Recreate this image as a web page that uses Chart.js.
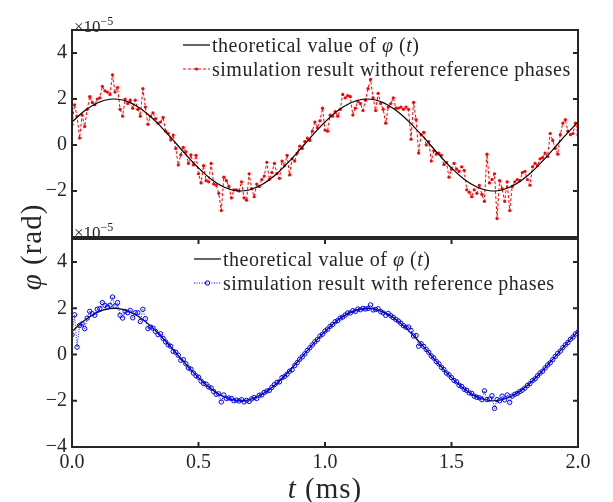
<!DOCTYPE html>
<html>
<head>
<meta charset="utf-8">
<script src="https://cdn.jsdelivr.net/npm/chart.js@4.4.1/dist/chart.umd.min.js"></script>
<style>
  body { margin: 0; background: #fff; }
  #wrap { position: relative; width: 613px; height: 502px; font-family: 'Liberation Serif', serif; color: #262626; }
  #wrap canvas { position: absolute; left: 0; top: 0; }
  .txt { position: absolute; white-space: nowrap; }
  .leg { position: absolute; height: 24px; line-height: 24px; font-size: 20px; letter-spacing: 0.5px; white-space: nowrap; display: flex; align-items: center; }
  .leg svg { margin-right: 2px; }
  .exp { font-size: 17px; line-height: 20px; }
  .exp sup { font-size: 12px; vertical-align: 7px; }
  .title { font-size: 29px; letter-spacing: 1px; height: 34px; line-height: 34px; width: 200px; text-align: center; }
</style>
</head>
<body>
<div id="wrap">
  <canvas id="topChart" width="613" height="502"></canvas>
  <canvas id="botChart" width="613" height="502"></canvas>

  <div class="txt exp" style="left:74px; top:11px;">×10<sup>−5</sup></div>
  <div class="txt exp" style="left:74px; top:217px;">×10<sup>−5</sup></div>

  <div class="leg" style="left:183px; top:33px;">
    <svg width="27" height="10"><line x1="0" y1="5" x2="27" y2="5" stroke="#000" stroke-width="1.2"/></svg>
    <span>theoretical value of <i>φ</i> (<i>t</i>)</span>
  </div>
  <div class="leg" style="left:183px; top:57px;">
    <svg width="27" height="10"><line x1="0" y1="5" x2="27" y2="5" stroke="#ff0000" stroke-width="1" stroke-dasharray="3,2"/><circle cx="13.5" cy="5" r="1.6" fill="#ff0000"/></svg>
    <span>simulation result without reference phases</span>
  </div>
  <div class="leg" style="left:194px; top:247px;">
    <svg width="27" height="10"><line x1="0" y1="5" x2="27" y2="5" stroke="#000" stroke-width="1.2"/></svg>
    <span>theoretical value of <i>φ</i> (<i>t</i>)</span>
  </div>
  <div class="leg" style="left:194px; top:271px;">
    <svg width="27" height="10"><line x1="0" y1="5" x2="27" y2="5" stroke="#0000ff" stroke-width="1" stroke-dasharray="1,1.5"/><circle cx="13.5" cy="5" r="2.2" fill="none" stroke="#0000ff" stroke-width="1"/></svg>
    <span>simulation result with reference phases</span>
  </div>

  <div class="txt title" style="left:-69px; top:230px; transform:rotate(-90deg);"><i>φ</i> (rad)</div>
  <div class="txt title" style="left:225px; top:471px;"><i>t</i> (ms)</div>
</div>

<script>
// sampling step of the simulated signals (ms) and of the theoretical curve
const simStep = 0.01;
const theoryStep = 0.05;

// theoretical phase, x1e-5 rad
const theory = [
  1.000, 1.486, 1.827, 1.989, 1.956, 1.732, 1.338, 0.813, 0.209, -0.416,
  -1.000, -1.486, -1.827, -1.989, -1.956, -1.732, -1.338, -0.813, -0.209, 0.416,
  1.000, 1.486, 1.827, 1.989, 1.956, 1.732, 1.338, 0.813, 0.209, -0.416,
  -1.000, -1.486, -1.827, -1.989, -1.956, -1.732, -1.338, -0.813, -0.209, 0.416,
  1.000
];

// simulation without reference phases (top panel)
const simNoRef = [
  0.90, 1.75, 1.25, 0.30, 1.30, 0.80, 1.55, 2.10, 1.85, 1.75,
  2.00, 2.05, 2.55, 2.35, 2.30, 2.20, 3.05, 2.30, 2.50, 1.55,
  1.25, 2.00, 1.80, 1.95, 1.60, 1.95, 1.55, 1.25, 2.45, 1.65,
  0.90, 1.25, 1.40, 1.15, 0.95, 1.00, 1.20, 0.60, 0.50, 0.22,
  0.43, -0.15, -0.87, -0.43, -0.10, -0.30, -0.80, -0.43, -0.87, -0.45,
  -1.25, -1.65, -0.90, -1.55, -1.60, -0.80, -1.70, -1.75, -2.10, -2.85,
  -1.40, -1.55, -1.80, -2.30, -1.95, -1.95, -2.00, -1.60, -2.30, -2.40,
  -1.25, -1.90, -2.25, -1.70, -1.80, -1.50, -1.35, -0.75, -1.50, -1.20,
  -0.80, -1.25, -1.45, -0.70, -0.90, -0.45, -1.30, -0.60, -0.70, -0.35,
  -0.05, -0.15, 0.15, 0.30, 0.20, 0.60, 1.00, 0.75, 1.05, 1.60,
  0.65, 0.60, 1.30, 1.25, 1.45, 1.25, 1.55, 2.20, 2.05, 2.15,
  2.10, 1.30, 1.60, 1.90, 1.80, 1.50, 1.95, 2.45, 2.85, 2.05,
  1.50, 2.25, 1.80, 1.55, 0.95, 1.65, 1.80, 2.05, 1.60, 1.60,
  1.65, 1.55, 1.65, 1.55, 0.25, 1.85, 1.10, -0.35, 0.45, 0.55,
  0.00, 0.15, -0.70, -0.25, -0.40, -0.35, -0.45, -0.85, -0.75, -1.40,
  -1.05, -0.80, -1.05, -1.15, -0.95, -1.10, -1.95, -2.05, -2.25, -1.95,
  -2.10, -1.75, -2.15, -2.45, -0.40, -1.65, -1.50, -1.25, -3.20, -1.55,
  -1.90, -2.45, -1.60, -2.85, -1.80, -1.60, -1.50, -1.55, -1.20, -1.15,
  -1.50, -1.75, -0.95, -0.80, -0.90, -0.60, -0.55, -0.35, -0.50, 0.50,
  0.20, -0.15, -0.40, 0.45, 0.95, 1.10, 0.60, 0.45, 0.50, 0.95,
  0.45
];

// simulation with reference phases (bottom panel)
const simRef = [
  0.86, 1.72, 0.32, 1.26, 1.33, 1.12, 1.58, 1.87, 1.77, 1.70,
  1.96, 1.99, 2.25, 2.13, 2.06, 2.13, 2.49, 2.10, 2.25, 1.70,
  1.58, 1.87, 1.81, 1.91, 1.59, 1.81, 1.81, 1.43, 1.96, 1.55,
  1.12, 1.19, 1.14, 1.00, 0.86, 0.90, 0.70, 0.55, 0.42, 0.36,
  0.14, 0.10, -0.03, -0.25, -0.22, -0.40, -0.58, -0.63, -0.80, -0.92,
  -0.98, -1.15, -1.25, -1.28, -1.40, -1.45, -1.60, -1.72, -1.70, -2.05,
  -1.75, -1.90, -1.88, -1.90, -2.00, -1.97, -2.01, -1.95, -2.05, -1.98,
  -2.03, -1.92, -1.86, -1.90, -1.76, -1.75, -1.64, -1.58, -1.55, -1.42,
  -1.30, -1.20, -1.18, -1.00, -0.95, -0.85, -0.72, -0.66, -0.48, -0.35,
  -0.20, -0.10, 0.03, 0.18, 0.29, 0.42, 0.55, 0.65, 0.80, 0.88,
  1.02, 1.10, 1.22, 1.30, 1.42, 1.47, 1.58, 1.62, 1.71, 1.80,
  1.80, 1.90, 1.87, 1.97, 1.94, 2.00, 1.97, 2.00, 2.15, 1.93,
  1.95, 1.98, 1.86, 1.80, 1.70, 1.78, 1.68, 1.60, 1.52, 1.45,
  1.35, 1.25, 1.18, 1.19, 1.04, 0.80, 0.82, 0.36, 0.47, 0.35,
  0.22, 0.10, -0.06, -0.15, -0.30, -0.40, -0.55, -0.65, -0.80, -0.88,
  -1.00, -1.12, -1.18, -1.33, -1.38, -1.50, -1.55, -1.66, -1.68, -1.80,
  -1.85, -1.87, -1.95, -1.57, -1.95, -1.93, -1.78, -2.33, -1.95, -2.00,
  -1.80, -1.96, -1.75, -2.07, -1.80, -1.72, -1.68, -1.60, -1.54, -1.45,
  -1.34, -1.26, -1.13, -1.05, -0.92, -0.80, -0.72, -0.58, -0.45, -0.36,
  -0.22, -0.08, 0.05, 0.15, 0.30, 0.42, 0.52, 0.66, 0.76, 0.89,
  0.98
];

// tick labels
const xTicks = [0, 0.5, 1.0, 1.5, 2.0];
const topYTicks = [-2, 0, 2, 4];
const botYTicks = [-4, -2, 0, 2, 4];

const axisColor = '#262626';
const tickFont = { family: "'Liberation Serif', serif", size: 20 };

function toPoints(values, step) {
    return values.map((v, i) => ({ x: i * step, y: v }));
}

function fmtY(v) {
    return v < 0 ? '\u2212' + Math.abs(v) : String(v);
}

// MATLAB-like box with inward ticks
const framePlugin = {
    id: 'frame',
    afterDraw(chart, args, opts) {
        const ctx = chart.ctx;
        const a = chart.chartArea;
        ctx.save();
        ctx.strokeStyle = axisColor;
        ctx.lineWidth = 2;
        ctx.beginPath();
        chart.scales.y.ticks.forEach(t => {
            const py = chart.scales.y.getPixelForValue(t.value);
            ctx.moveTo(a.left, py); ctx.lineTo(a.left + 5, py);
            ctx.moveTo(a.right, py); ctx.lineTo(a.right - 5, py);
        });
        if (opts.xTicks) {
            chart.scales.x.ticks.forEach(t => {
                const px = chart.scales.x.getPixelForValue(t.value);
                ctx.moveTo(px, a.bottom); ctx.lineTo(px, a.bottom - 5);
                ctx.moveTo(px, a.top); ctx.lineTo(px, a.top + 5);
            });
        }
        ctx.stroke();
        ctx.strokeRect(a.left, a.top, a.right - a.left, a.bottom - a.top);
        ctx.restore();
    }
};

function makePanel(canvasId, simDataset, yTicks, showX, padding) {
    const theoryDataset = {
        label: 'theoretical',
        data: toPoints(theory, theoryStep),
        borderColor: '#000000',
        borderWidth: 1.2,
        pointRadius: 0,
        tension: 0.4,
        order: showX ? 1 : 0
    };
    return new Chart(document.getElementById(canvasId), {
        type: 'line',
        data: { datasets: [simDataset, theoryDataset] },
        options: {
            responsive: false,
            animation: false,
            devicePixelRatio: 1,
            layout: { padding: padding },
            plugins: {
                legend: { display: false },
                tooltip: { enabled: false },
                frame: { xTicks: showX }
            },
            scales: {
                x: {
                    type: 'linear',
                    min: 0,
                    max: 2,
                    display: showX,
                    afterBuildTicks: s => { s.ticks = xTicks.map(v => ({ value: v })); },
                    afterFit: s => { s.height = showX ? 55 : 0; },
                    grid: { display: false, drawTicks: false },
                    border: { display: false },
                    ticks: {
                        font: tickFont,
                        color: axisColor,
                        padding: 4,
                        maxRotation: 0,
                        callback: v => v.toFixed(1)
                    }
                },
                y: {
                    type: 'linear',
                    min: -4,
                    max: 5,
                    afterBuildTicks: s => { s.ticks = yTicks.map(v => ({ value: v })); },
                    afterFit: s => { s.width = 72; },
                    grid: { display: false, drawTicks: false },
                    border: { display: false },
                    ticks: {
                        font: tickFont,
                        color: axisColor,
                        padding: 5,
                        callback: v => fmtY(v)
                    }
                }
            }
        },
        plugins: [framePlugin]
    });
}

makePanel('topChart', {
    label: 'without reference',
    data: toPoints(simNoRef, simStep),
    borderColor: '#ff0000',
    borderWidth: 1,
    borderDash: [3, 2],
    pointRadius: 1.6,
    pointBackgroundColor: '#ff0000',
    pointBorderWidth: 0,
    tension: 0,
    order: 1
}, topYTicks, false, { left: 0, right: 35, top: 30, bottom: 265 });

makePanel('botChart', {
    label: 'with reference',
    data: toPoints(simRef, simStep),
    borderColor: '#0000ff',
    borderWidth: 1,
    borderDash: [1, 1.5],
    pointRadius: 2.2,
    pointBackgroundColor: 'rgba(0,0,0,0)',
    pointBorderColor: '#0000ff',
    pointBorderWidth: 1,
    tension: 0,
    order: 0
}, botYTicks, true, { left: 0, right: 35, top: 239, bottom: 0 });
</script>
</body>
</html>
